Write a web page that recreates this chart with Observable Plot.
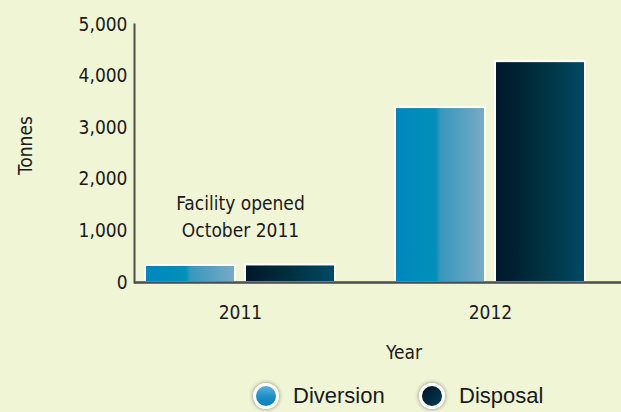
<!DOCTYPE html>
<html>
<head>
<meta charset="utf-8">
<script src="https://cdn.jsdelivr.net/npm/d3@7"></script>
<script src="https://cdn.jsdelivr.net/npm/@observablehq/plot@0.6"></script>
<style>
  html, body { margin: 0; padding: 0; background: #f0f5d6; }
  #wrap { position: relative; width: 621px; height: 412px; overflow: hidden; background: #f0f5d6; }
  #chart { position: absolute; left: 0; top: 0; }
  .leg { position: absolute; top: 383px; display: flex; align-items: center; font-family: "Liberation Sans", Arial, sans-serif; font-size: 22px; color: #1a1a1a; }
  .dot { width: 20px; height: 20px; border-radius: 50%; border: 3px solid #fff; box-shadow: 0 0 4px rgba(0,0,0,0.45); margin-right: 14px; }
</style>
</head>
<body>
<div id="wrap">
  <div id="chart"></div>
  <div class="leg" style="left:253px"><div class="dot" style="background: linear-gradient(180deg, #5ab0dc 0%, #1e8fc6 55%, #0a7fb6 100%);"></div><span id="l0"></span></div>
  <div class="leg" style="left:419px"><div class="dot" style="background: linear-gradient(135deg, #001525 0%, #002a40 55%, #00405a 100%);"></div><span id="l1"></span></div>
</div>
<script>
const years = ["2011", "2012"];
const series = ["Diversion", "Disposal"];
const diversion = [330, 3390];
const disposal = [340, 4280];
const yTicks = [0, 1000, 2000, 3000, 4000, 5000];
const noteText = ["Facility opened", "October 2011"];
const noteYear = "2011";
const noteValue = 1310;
const yLabel = "Tonnes";
const xLabel = "Year";

const divData = years.map((y, i) => ({year: y, series: series[0], value: diversion[i]}));
const disData = years.map((y, i) => ({year: y, series: series[1], value: disposal[i]}));
const note = [{year: noteYear, value: noteValue, text: noteText.join("\n")}];

document.getElementById("l0").textContent = series[0];
document.getElementById("l1").textContent = series[1];

const font = "'DejaVu Sans Condensed', 'DejaVu Sans', sans-serif";
const fs = 19;

const chart = Plot.plot({
  width: 621,
  height: 375,
  marginLeft: 134,
  marginRight: 0,
  marginTop: 24,
  marginBottom: 93,
  style: {background: "transparent", fontFamily: font, fontSize: fs + "px", color: "#1a1a1a", fontStretch: "condensed"},
  x: {domain: years, paddingInner: 0.24, paddingOuter: 0.094, align: 0.234},
  y: {domain: [0, 5000], ticks: yTicks},
  marks: [
    Plot.barY(divData, {x: "year", y: "value", fill: "url(#gDiv)", stroke: "#fff", strokeWidth: 2, insetRight: 100}),
    Plot.barY(disData, {x: "year", y: "value", fill: "url(#gDis)", stroke: "#fff", strokeWidth: 2, insetLeft: 100}),
    Plot.text(note, {x: "year", y: "value", text: "text", lineHeight: 1.45, fontSize: fs, fill: "#1a1a1a"}),
    Plot.axisY({ticks: yTicks, tickSize: 0, tickPadding: 7, tickFormat: d3.format(","), label: null, fontSize: fs}),
    Plot.axisX({tickSize: 0, tickPadding: 23, label: null, fontSize: fs}),
    Plot.text([yLabel], {frameAnchor: "left", textAnchor: "middle", lineAnchor: "middle", rotate: -90, dx: -109, dy: -8, fontSize: fs, fill: "#1a1a1a"}),
    Plot.text([xLabel], {frameAnchor: "bottom", textAnchor: "middle", lineAnchor: "middle", dx: 26, dy: 70, fontSize: fs, fill: "#1a1a1a"}),
    Plot.ruleY([0], {stroke: "#4d4d4d", strokeWidth: 2.5}),
    Plot.frame({anchor: "left", stroke: "#4d4d4d", strokeWidth: 2})
  ]
});

const ns = "http://www.w3.org/2000/svg";
const defs = document.createElementNS(ns, "defs");
defs.innerHTML = `
<linearGradient id="gDiv" x1="0" x2="1" y1="0" y2="0">
  <stop offset="0" stop-color="#0087bd"/>
  <stop offset="0.45" stop-color="#0090b9"/>
  <stop offset="0.5" stop-color="#3598bd"/>
  <stop offset="1" stop-color="#7aaac6"/>
</linearGradient>
<linearGradient id="gDis" x1="0" x2="1" y1="0" y2="0">
  <stop offset="0" stop-color="#00172a"/>
  <stop offset="0.5" stop-color="#00303f"/>
  <stop offset="1" stop-color="#004a66"/>
</linearGradient>`;
chart.insertBefore(defs, chart.firstChild);
document.getElementById("chart").appendChild(chart);
</script>
</body>
</html>
